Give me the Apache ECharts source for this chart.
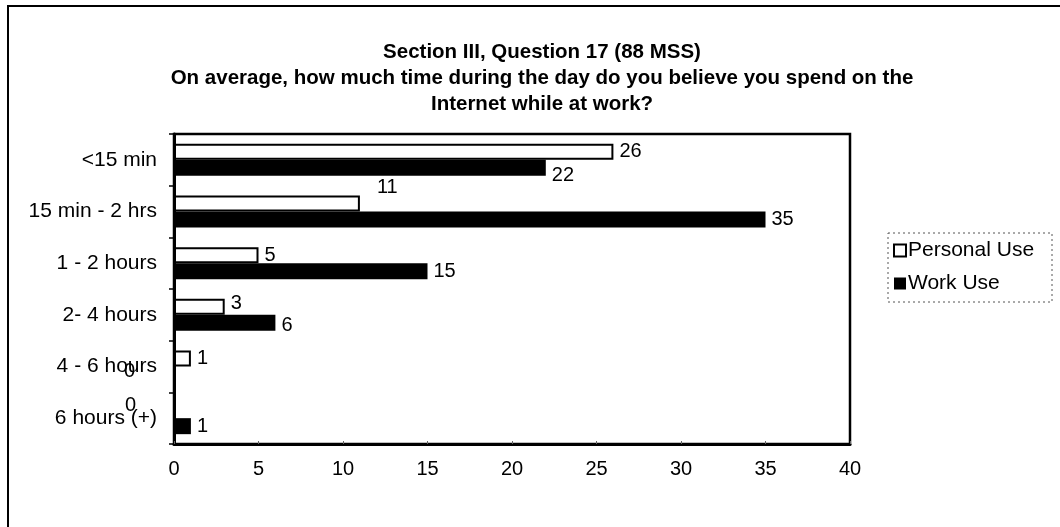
<!DOCTYPE html>
<html>
<head>
<meta charset="utf-8">
<script src="https://cdn.jsdelivr.net/npm/echarts@6/dist/echarts.min.js"></script>
<style>html,body{margin:0;padding:0;background:#fff}#c{width:1060px;height:527px}</style>
</head>
<body>
<div id="c"></div>
<script>
var titleLines = ['Section III, Question 17 (88 MSS)', 'On average, how much time during the day do you believe you spend on the', 'Internet while at work?'];
var categories = ['<15 min', '15 min - 2 hrs', '1 - 2 hours', '2- 4 hours', '4 - 6 hours', '6 hours (+)'];
var personalUse = [26, 11, 5, 3, 1, 0];
var workUse = [22, 35, 15, 6, 0, 1];
var xTicks = { min: 0, max: 40, interval: 5 };

var FONT = "'Liberation Sans', Arial, sans-serif";
// label tweaks to mimic the original placement
var personalLabelOffsets = { 1: [11, -16], 3: [0, -3], 5: [-56, -5] };
var workLabelOffsets = { 0: [0, 8], 3: [0, 3], 4: [-56, -3] };

function build(vals, offs) {
  return vals.map(function (v, i) {
    var d = { value: v };
    if (offs[i]) d.label = { offset: offs[i] };
    return d;
  });
}

var chart = echarts.init(document.getElementById('c'), null, { renderer: 'canvas' });
chart.setOption({
  backgroundColor: '#fff',
  animation: false,
  textStyle: { fontFamily: FONT },
  title: {
    text: titleLines.join('\n'),
    left: 537, top: 34, textAlign: 'center',
    textStyle: { fontFamily: FONT, fontSize: 20.5, fontWeight: 'bold', color: '#000', lineHeight: 26 }
  },
  graphic: [
    { type: 'rect', shape: { x: 8, y: 6, width: 1100, height: 600 }, style: { fill: 'none', stroke: '#000', lineWidth: 2 }, silent: true },
    { type: 'rect', shape: { x: 888, y: 233, width: 164, height: 69 }, style: { fill: 'none', stroke: '#555', lineWidth: 1, lineDash: [2, 3] }, silent: true, z: 10 }
  ],
  legend: {
    orient: 'vertical', left: 888, top: 235,
    itemWidth: 12, itemHeight: 12, itemGap: 12,
    icon: 'rect',
    textStyle: { fontFamily: FONT, fontSize: 21, color: '#000', padding: [0, 0, 0, -3] },
    data: [
      { name: 'Personal Use', itemStyle: { color: '#fff', borderColor: '#000', borderWidth: 2 } },
      { name: 'Work Use', itemStyle: { color: '#000' } }
    ]
  },
  grid: { left: 174, top: 134, width: 676, height: 310, show: true, borderColor: '#000', borderWidth: 2.5, containLabel: false },
  xAxis: {
    type: 'value', min: xTicks.min, max: xTicks.max, interval: xTicks.interval,
    axisLine: { show: true, lineStyle: { color: '#000', width: 3 } },
    axisTick: { show: true, inside: true, length: 3, lineStyle: { color: '#666', width: 1 } },
    splitLine: { show: false },
    axisLabel: { fontFamily: FONT, fontSize: 20, color: '#000', margin: 15 }
  },
  yAxis: {
    type: 'category', inverse: true, data: categories,
    axisLine: { show: true, lineStyle: { color: '#000', width: 3 } },
    axisTick: { show: true, length: 5, lineStyle: { color: '#000', width: 1.5 } },
    splitLine: { show: false },
    axisLabel: { fontFamily: FONT, fontSize: 21, color: '#000', margin: 17 }
  },
  series: [
    {
      name: 'Personal Use', type: 'bar', barWidth: 16, barGap: '0%',
      itemStyle: { color: '#fff', borderColor: '#000', borderWidth: 2 },
      label: { show: true, position: 'right', distance: 6, fontFamily: FONT, fontSize: 20, color: '#000' },
      data: build(personalUse, personalLabelOffsets)
    },
    {
      name: 'Work Use', type: 'bar', barWidth: 16, barGap: '0%',
      itemStyle: { color: '#000' },
      label: { show: true, position: 'right', distance: 6, fontFamily: FONT, fontSize: 20, color: '#000' },
      data: build(workUse, workLabelOffsets)
    }
  ]
});
</script>
</body>
</html>
